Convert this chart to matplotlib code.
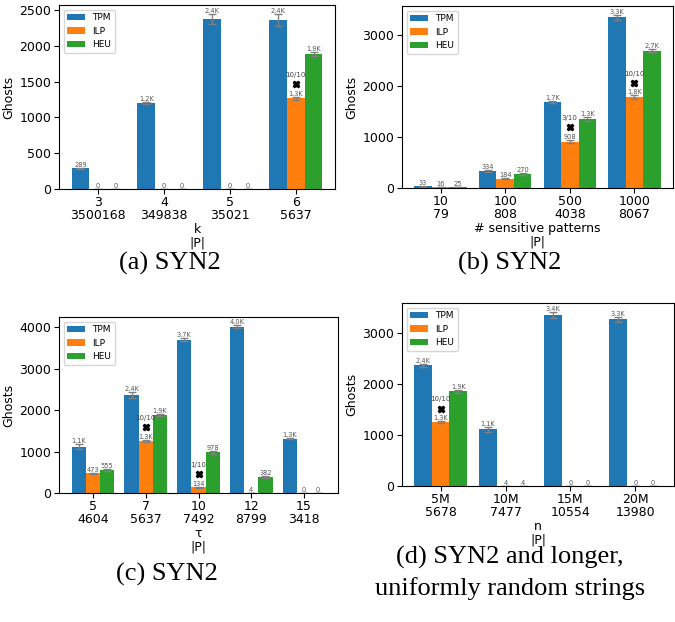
import numpy as np
import matplotlib
matplotlib.use('Agg')
import matplotlib.pyplot as plt

# ---------------------------------------------------------------- data
# (a) varying k
a_cats = ['3', '4', '5', '6']
a_psize = ['3500168', '349838', '35021', '5637']
a_tpm = [289, 1201, 2375, 2361]
a_ilp = [0, 0, 0, 1271]
a_heu = [0, 0, 0, 1886]
a_tpm_err = [10, 15, 75, 80]
a_ilp_err = [0, 0, 0, 20]
a_heu_err = [0, 0, 0, 25]
a_marks = [(3, 1463, '10/10')]

# (b) varying number of sensitive patterns
b_cats = ['10', '100', '500', '1000']
b_psize = ['79', '808', '4038', '8067']
b_tpm = [33, 334, 1688, 3340]
b_ilp = [16, 184, 908, 1787]
b_heu = [25, 270, 1345, 2687]
b_tpm_err = [5, 15, 20, 50]
b_ilp_err = [3, 12, 35, 40]
b_heu_err = [4, 15, 35, 30]
b_marks = [(2, 1186, '3/10'), (3, 2055, '10/10')]

# (c) varying tau
c_cats = ['5', '7', '10', '12', '15']
c_psize = ['4604', '5637', '7492', '8799', '3418']
c_tpm = [1118, 2365, 3701, 4015, 1311]
c_ilp = [473, 1262, 134, 4, 0]
c_heu = [555, 1891, 978, 382, 0]
c_tpm_err = [60, 70, 40, 30, 15]
c_ilp_err = [20, 20, 15, 2, 0]
c_heu_err = [25, 25, 30, 25, 0]
c_marks = [(1, 1584, '10/10'), (2, 451, '1/10')]

# (d) varying n
d_cats = ['5M', '10M', '15M', '20M']
d_psize = ['5678', '7477', '10554', '13980']
d_tpm = [2368, 1115, 3360, 3268]
d_ilp = [1252, 4, 0, 0]
d_heu = [1859, 4, 0, 0]
d_tpm_err = [30, 50, 60, 50]
d_ilp_err = [20, 2, 0, 0]
d_heu_err = [25, 2, 0, 0]
d_marks = [(0, 1520, '10/10')]

captions = ['(a) SYN2', '(b) SYN2', '(c) SYN2',
            '(d) SYN2 and longer,\nuniformly random strings']

W, H = 675, 622
fig = plt.figure(figsize=(W / 100, H / 100), dpi=100)


def px_axes(l, t, r, b):
    return fig.add_axes([l / W, 1 - b / H, (r - l) / W, (b - t) / H])


def fmt(v):
    if v >= 1000:
        return '{:.1f}K'.format(v / 1000)
    return str(int(v))


def panel(ax, cats, psize, series, errs, marks, xlabel):
    x = np.arange(len(cats))
    w = 0.27
    names = ['TPM', 'ILP', 'HEU']
    colors = ['#1f77b4', '#ff7f0e', '#2ca02c']
    for k, (vals, err) in enumerate(zip(series, errs)):
        bars = ax.bar(x + (k - 1) * w, vals, w, yerr=err, color=colors[k],
                      label=names[k],
                      error_kw=dict(ecolor='gray', capsize=3, elinewidth=1))
        ax.bar_label(bars, labels=[fmt(v) for v in vals], fontsize=4.8,
                     color='#555555', padding=0)
    for i, y, txt in marks:
        ax.plot(x[i], y, 'X', color='k', ms=5)
        ax.text(x[i], y + 0.035 * ax.get_ylim()[1], txt, ha='center',
                va='bottom', fontsize=5, color='#444444')
    ax.set_xticks(x)
    ax.set_xticklabels(['{}\n{}'.format(c, p) for c, p in zip(cats, psize)],
                       fontsize=9, linespacing=1.0)
    ax.tick_params(axis='x', pad=1.5)
    ax.tick_params(axis='y', labelsize=9, pad=2)
    ax.set_xlabel(xlabel, fontsize=9, linespacing=1.05, labelpad=1)
    ax.set_ylabel('Ghosts', fontsize=9, labelpad=3)
    ax.legend(loc='upper left', fontsize=6.5)


ax_a = px_axes(59, 5, 335, 189)
panel(ax_a, a_cats, a_psize, [a_tpm, a_ilp, a_heu],
      [a_tpm_err, a_ilp_err, a_heu_err], a_marks, 'k\n|P|')

ax_b = px_axes(402, 6, 673, 188)
panel(ax_b, b_cats, b_psize, [b_tpm, b_ilp, b_heu],
      [b_tpm_err, b_ilp_err, b_heu_err], b_marks, '# sensitive patterns\n|P|')

ax_c = px_axes(59, 317, 338, 493)
panel(ax_c, c_cats, c_psize, [c_tpm, c_ilp, c_heu],
      [c_tpm_err, c_ilp_err, c_heu_err], c_marks, '\u03c4\n|P|')

ax_d = px_axes(402, 303, 674, 486)
panel(ax_d, d_cats, d_psize, [d_tpm, d_ilp, d_heu],
      [d_tpm_err, d_ilp_err, d_heu_err], d_marks, 'n\n|P|')

cap_pos = [(170, 263), (510, 263), (167, 574), (510, 573)]
for (cx, cy), cap in zip(cap_pos, captions):
    fig.text(cx / W, 1 - cy / H, cap, ha='center', va='center',
             fontsize=19, family='Liberation Serif', linespacing=1.45)

fig.savefig('out.png', dpi=100)
